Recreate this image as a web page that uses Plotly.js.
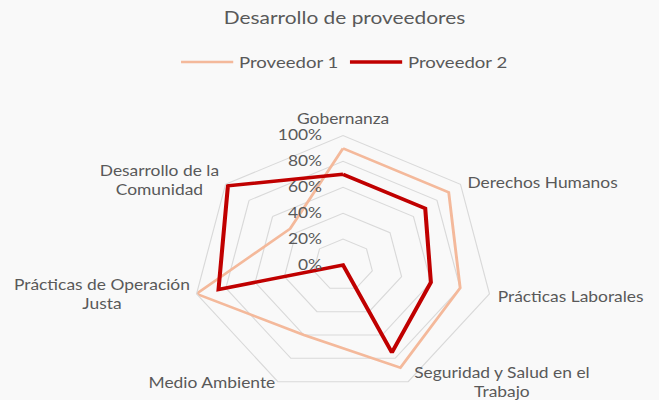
<!DOCTYPE html>
<html>
<head>
<meta charset="utf-8">
<script src="https://cdn.plot.ly/plotly-3.0.1.min.js"></script>
<style>
  body { margin: 0; background: #f9f9f9; overflow: hidden; }
  /* the source picture is a bit wider than tall, so the plot is stretched sideways */
  #graph { width: 568px; height: 400px; transform: scaleX(1.16); transform-origin: 0 0; }
</style>
</head>
<body>
<div id="graph"></div>
<script>
// categories of the radar (clockwise from the top)
var categories = [
    "Gobernanza",
    "Derechos Humanos",
    "Prácticas Laborales",
    "Seguridad y Salud en el Trabajo",
    "Medio Ambiente",
    "Prácticas de Operación Justa",
    "Desarrollo de la Comunidad"
];

// how the category names are wrapped on the chart
var categoryLabels = [
    "Gobernanza",
    "Derechos Humanos",
    "Prácticas Laborales",
    "Seguridad y Salud en el<br>Trabajo",
    "Medio Ambiente",
    "Prácticas de Operación<br>Justa",
    "Desarrollo de la<br>Comunidad"
];

// scores in percent
var proveedor1 = [90, 90, 80, 88, 60, 100, 45];
var proveedor2 = [70, 70, 60, 75, 0, 85, 98];

var radialTicks = [0, 20, 40, 60, 80, 100];
// trailing no-break spaces keep the labels a little away from the axis
var radialLabels = radialTicks.map(function (v) { return v + "%\u00a0\u00a0\u00a0\u00a0"; });

// close the polygon by repeating the first point
function closeLoop(arr) {
    return arr.concat([arr[0]]);
}

function drawGraph() {
    var trace1, trace2, data, layout, labelSpots, annotations;
    var grey = "#595959";

    trace1 = {
        type: "scatterpolar",
        mode: "lines",
        name: "Proveedor 1",
        theta: closeLoop(categories),
        r: closeLoop(proveedor1),
        line: { color: "#f4b99b", width: 2.5 }
    };

    trace2 = {
        type: "scatterpolar",
        mode: "lines",
        name: "Proveedor 2",
        theta: closeLoop(categories),
        r: closeLoop(proveedor2),
        line: { color: "#c00000", width: 3.5 }
    };

    data = [trace1, trace2];

    // plotly pushes the angular labels too far out at the bottom,
    // so the category names are placed next to the outer corners by hand
    labelSpots = [
        { x: 0.5205, y: 0.705, xanchor: "center", yanchor: "middle" },
        { x: 0.7056, y: 0.545, xanchor: "left", yanchor: "middle" },
        { x: 0.7511, y: 0.260, xanchor: "left", yanchor: "middle" },
        { x: 0.6252, y: -0.007, xanchor: "left", yanchor: "bottom" },
        { x: 0.4203, y: 0.045, xanchor: "right", yanchor: "middle" },
        { x: 0.2914, y: 0.264, xanchor: "right", yanchor: "middle" },
        { x: 0.3369, y: 0.550, xanchor: "right", yanchor: "middle" }
    ];

    annotations = categoryLabels.map(function (txt, i) {
        return {
            text: txt,
            xref: "paper",
            yref: "paper",
            x: labelSpots[i].x,
            y: labelSpots[i].y,
            xanchor: labelSpots[i].xanchor,
            yanchor: labelSpots[i].yanchor,
            align: "center",
            showarrow: false,
            font: { size: 15, color: grey }
        };
    });

    layout = {
        width: 568,
        height: 400,
        margin: { l: 0, r: 0, t: 0, b: 0 },
        paper_bgcolor: "#f9f9f9",
        font: { family: "Lato, 'Open Sans', sans-serif", size: 15, color: grey },
        title: {
            text: "Desarrollo de proveedores",
            font: { size: 18, color: grey },
            x: 0.523,
            xanchor: "center",
            y: 0.955,
            yanchor: "middle"
        },
        showlegend: true,
        legend: {
            orientation: "h",
            x: 0.523,
            xanchor: "center",
            y: 0.845,
            yanchor: "middle",
            itemwidth: 45,
            bgcolor: "rgba(0,0,0,0)",
            font: { size: 16, color: grey }
        },
        annotations: annotations,
        polar: {
            domain: { x: [0.2926, 0.7486], y: [0.01375, 0.66125] },
            bgcolor: "rgba(0,0,0,0)",
            gridshape: "linear",
            angularaxis: {
                rotation: 90,
                direction: "clockwise",
                showgrid: false,
                showline: true,
                linecolor: "#d9d9d9",
                linewidth: 1,
                ticks: "",
                showticklabels: false
            },
            radialaxis: {
                range: [0, 100],
                tickvals: radialTicks,
                ticktext: radialLabels,
                side: "counterclockwise",
                showline: false,
                ticks: "",
                gridcolor: "#d9d9d9",
                gridwidth: 1,
                angle: 90,
                tickangle: 90,
                tickfont: { size: 15, color: grey }
            }
        }
    };

    Plotly.newPlot("graph", data, layout, { displayModeBar: false });
}

drawGraph();
</script>
</body>
</html>
